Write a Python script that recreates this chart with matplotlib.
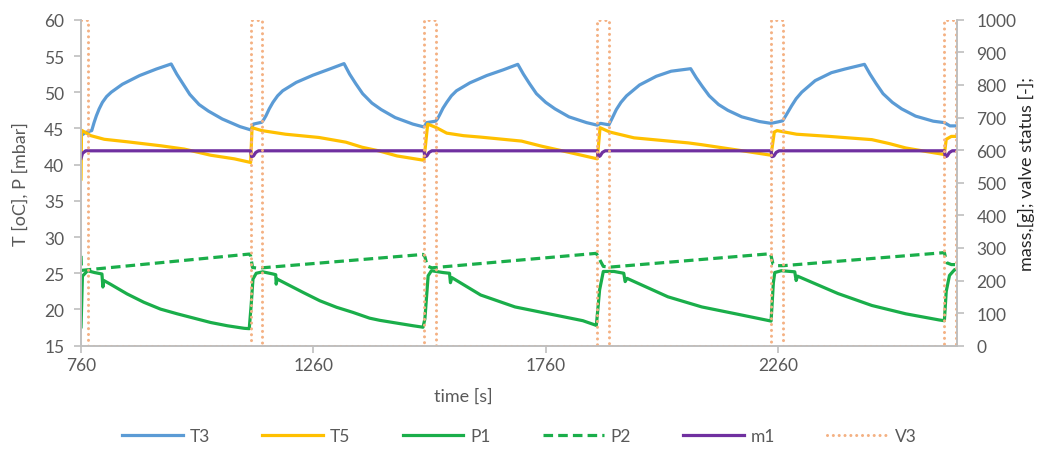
import matplotlib.pyplot as plt

plt.rcParams['font.family'] = ['Lato', 'DejaVu Sans']

# --- data (time in s) ---
t3_time = [760, 770, 783, 788, 793, 799, 806, 815, 825, 849, 886, 922, 954, 966, 979, 994, 1014, 1034, 1064, 1102, 1125,
           1131, 1149, 1153, 1158, 1165, 1173, 1183, 1194, 1223, 1259, 1295, 1326, 1338, 1351, 1366, 1386, 1406, 1436, 1474, 1498,
           1504, 1523, 1527, 1532, 1539, 1547, 1557, 1568, 1597, 1633, 1669, 1700, 1712, 1725, 1740, 1760, 1780, 1810, 1848, 1871,
           1878, 1896, 1903, 1912, 1922, 1934, 1962, 1998, 2030, 2072, 2084, 2097, 2112, 2132, 2152, 2182, 2220, 2245,
           2260, 2270, 2278, 2289, 2299, 2311, 2340, 2375, 2404, 2446, 2458, 2471, 2486, 2506, 2526, 2556, 2594, 2618,
           2630, 2645]
t3_vals = [44.0, 44.45, 44.7, 45.8, 46.75, 47.7, 48.6, 49.4, 50.0, 51.1, 52.3, 53.2, 53.9, 52.5, 51.2, 49.7, 48.3, 47.4, 46.3, 45.25, 44.8,
           45.6, 45.85, 46.2, 46.75, 47.7, 48.6, 49.5, 50.2, 51.35, 52.35, 53.2, 53.95, 52.5, 51.2, 49.8, 48.5, 47.6, 46.5, 45.6, 45.2,
           45.8, 46.0, 46.3, 46.9, 47.8, 48.6, 49.5, 50.2, 51.3, 52.3, 53.1, 53.85, 52.5, 51.2, 49.8, 48.6, 47.7, 46.6, 45.8, 45.45,
           45.7, 45.5, 46.4, 47.6, 48.6, 49.5, 51.0, 52.2, 52.9, 53.25, 52.0, 50.8, 49.5, 48.3, 47.5, 46.6, 45.95, 45.7,
           45.9, 46.05, 46.9, 48.1, 49.1, 50.0, 51.6, 52.7, 53.2, 53.85, 52.5, 51.2, 49.8, 48.6, 47.7, 46.7, 46.0, 45.8,
           45.35, 45.35]

t5_time = [760, 761, 781, 810, 860, 932, 982, 1039, 1090, 1125,
           1128, 1149, 1200, 1272, 1330, 1365, 1401, 1440, 1498,
           1506, 1525, 1547, 1583, 1620, 1708, 1751, 1803, 1871,
           1877, 1898, 1950, 2067, 2096, 2169, 2245,
           2252, 2258, 2270, 2300, 2370, 2462, 2500, 2535, 2580, 2618,
           2622, 2633, 2645]
t5_vals = [38.0, 44.75, 44.0, 43.5, 43.15, 42.6, 42.15, 41.3, 40.8, 40.3,
           45.1, 44.7, 44.2, 43.75, 43.1, 42.4, 41.9, 41.2, 40.6,
           45.6, 45.1, 44.35, 44.0, 43.8, 43.25, 42.55, 41.8, 40.8,
           45.1, 44.5, 43.7, 43.0, 42.75, 42.05, 41.3,
           44.5, 44.7, 44.55, 44.2, 43.9, 43.45, 42.9, 42.3, 41.8, 41.4,
           43.5, 43.9, 43.9]

p1_time = [760, 763, 774, 789, 805, 807, 809, 823, 859, 895, 931, 967, 1003, 1039, 1075, 1111, 1122,
           1126, 1130, 1137, 1151, 1173, 1179, 1180, 1182, 1238, 1274, 1310, 1345, 1381, 1403, 1446, 1475, 1496,
           1500, 1507, 1514, 1539, 1553, 1555, 1558, 1620, 1694, 1767, 1840, 1869,
           1876, 1884, 1907, 1928, 1931, 1935, 2023, 2096, 2169, 2245,
           2250, 2253, 2267, 2296, 2299, 2302, 2389, 2462, 2535, 2607, 2618,
           2622, 2629, 2640, 2645]
p1_vals = [17.6, 24.6, 25.35, 25.1, 24.9, 23.1, 24.0, 23.5, 22.15, 21.0, 20.05, 19.4, 18.8, 18.2, 17.75, 17.4, 17.35,
           20.5, 24.2, 25.0, 25.2, 24.9, 24.8, 23.5, 24.2, 22.35, 21.2, 20.3, 19.6, 18.8, 18.5, 18.05, 17.75, 17.55,
           18.7, 24.65, 25.35, 25.1, 25.0, 23.7, 24.4, 22.0, 20.35, 19.4, 18.45, 17.8,
           22.7, 25.25, 25.25, 25.0, 23.85, 24.3, 21.75, 20.35, 19.4, 18.4,
           23.7, 25.1, 25.35, 25.2, 24.0, 24.6, 22.2, 20.55, 19.4, 18.55, 18.45,
           22.5, 24.7, 25.5, 25.5]

p2_time = [760, 761, 1122, 1125, 1129, 1140,
           1496, 1500, 1505, 1515,
           1869, 1876, 1884, 1898,
           2244, 2249, 2260, 2272,
           2618, 2623, 2633, 2645]
p2_vals = [27.4, 25.4, 27.65, 27.4, 25.8, 25.7,
           27.6, 27.3, 26.0, 25.75,
           27.75, 26.9, 25.95, 25.85,
           27.7, 26.3, 26.05, 26.05,
           27.85, 26.45, 26.2, 26.2]

m1_time = [760, 763, 770, 1125, 1127, 1131, 1136, 1142, 1498, 1500, 1504, 1509, 1515,
           1871, 1873, 1877, 1882, 1888, 2245, 2247, 2251, 2256, 2262,
           2618, 2620, 2624, 2629, 2635, 2645]
m1_vals = [575, 590, 598, 598, 580, 582, 593, 598, 598, 580, 582, 593, 598,
           598, 580, 582, 593, 598, 598, 580, 582, 593, 598,
           598, 580, 582, 593, 598, 598]

v3_time = [760, 776, 776, 1125, 1125, 1149, 1149, 1498, 1498, 1523, 1523, 1871, 1871, 1896, 1896,
           2245, 2245, 2270, 2270, 2618, 2618, 2643, 2643, 2645]
v3_vals = [1000, 1000, 0, 0, 1000, 1000, 0, 0, 1000, 1000, 0, 0, 1000, 1000, 0,
           0, 1000, 1000, 0, 0, 1000, 1000, 0, 0]

grey = '#BFBFBF'
txt = '#595959'
lw = 2.3
fs = 12.5

fig = plt.figure(figsize=(10.39, 4.52), dpi=100)
ax = fig.add_axes([0.078, 0.233, 0.843, 0.721])
ax2 = ax.twinx()

ax.plot(t3_time, t3_vals, color='#5B9BD5', lw=lw, label='T3')
ax.plot(t5_time, t5_vals, color='#FFC000', lw=lw, label='T5')
ax.plot(p1_time, p1_vals, color='#1AAE4A', lw=lw, label='P1')
ax.plot(p2_time, p2_vals, color='#1AAE4A', lw=lw, dashes=(3.0, 1.6), label='P2')
ax2.plot(m1_time, m1_vals, color='#7030A0', lw=lw, label='m1')
ax2.plot(v3_time, v3_vals, color='#F4B183', lw=2.2, dashes=(0.01, 1.9),
         dash_capstyle='round', label='V3')

ax.set_xlim(760, 2645)
ax.set_ylim(15, 60)
ax2.set_ylim(0, 1000)
ax.set_xticks([760, 1260, 1760, 2260])
ax.set_yticks(range(15, 61, 5))
ax2.set_yticks(range(0, 1001, 100))

for a in (ax, ax2):
    for s in a.spines.values():
        s.set_color(grey)
        s.set_linewidth(1.2)
    a.spines['top'].set_visible(False)
    a.tick_params(colors=grey, labelcolor=txt, labelsize=fs, length=5, width=1.2)
ax.tick_params(axis='y', pad=7)
ax2.tick_params(axis='y', pad=9)

ax.set_ylabel('T [oC], P [mbar]', fontsize=13, color=txt)
ax.yaxis.set_label_coords(-0.06, 0.5)
ax2.set_ylabel('mass,[g]; valve status [-];', fontsize=13, color='#262626')
ax2.yaxis.set_label_coords(1.07, 0.53)
ax.set_xlabel('time [s]', fontsize=13, color=txt)
ax.xaxis.set_label_coords(0.436, -0.13)

h1, l1 = ax.get_legend_handles_labels()
h2, l2 = ax2.get_legend_handles_labels()
leg = fig.legend(h1 + h2, l1 + l2, loc='center', bbox_to_anchor=(0.5, 0.033), ncol=6,
                 frameon=False, fontsize=fs, handlelength=3.5, handletextpad=0.4, columnspacing=3.0)
for t in leg.get_texts():
    t.set_color(txt)

fig.savefig('out.png', dpi=100)
